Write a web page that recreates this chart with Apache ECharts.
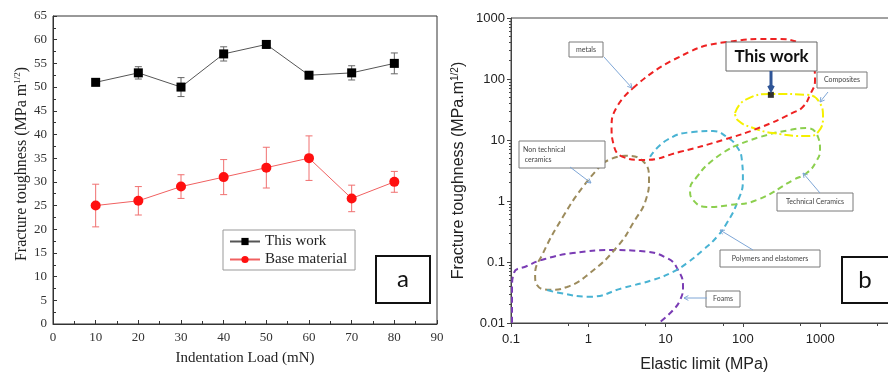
<!DOCTYPE html>
<html>
<head>
<meta charset="utf-8">
<script src="https://cdn.jsdelivr.net/npm/echarts@6/dist/echarts.min.js"></script>
<style>
html,body{margin:0;padding:0;background:#fff;}
#chart{width:888px;height:372px;}
</style>
</head>
<body>
<div id="chart"></div>
<script>
// panel a : toughness vs indentation load
const loads = [10, 20, 30, 40, 50, 60, 70, 80];
const thisWork = [51, 53, 50, 57, 59, 52.5, 53, 55];
const thisWorkErr = [0.7, 1.3, 2, 1.5, 0.8, 0.3, 1.5, 2.2];
const baseMat = [25, 26, 29, 31, 33, 35, 26.5, 30];
const baseMatErr = [4.5, 3, 2.5, 3.7, 4.3, 4.7, 2.8, 2.2];

// panel b : material families, [elastic limit MPa, toughness MPa.m^1/2]
const metals = [[3.8,71],[12.5,205],[62,405],[245,453],[548,389],[807,183],[857,96],[738,55],[599,35],[445,28],[166,16],[55,10],[15.4,6.4],[5.1,4.7],[2.8,5.3],[2.1,8.9],[2.0,16],[2.35,35],[3.8,71]];
const composites = [[79,27.7],[106,45],[245,57],[675,55],[994,40],[1087,24],[937,13.5],[675,11.6],[245,13],[131,16],[86,21],[79,27.7]];
const techCeramics = [[74.5,7.7],[166,11.2],[406,14.6],[675,15.7],[937,11.2],[994,6.9],[883,4.4],[675,2.9],[445,2.2],[152,1.04],[68,0.86],[34,0.8],[22.6,1.04],[20.7,1.5],[25.5,2.5],[41,4.7],[74.5,7.7]];
const polymers = [[6.3,5.3],[10.4,10],[22.6,13.5],[41,14],[62,11.2],[84,7.7],[97,4.7],[100,2.2],[84,0.93],[62,0.435],[46,0.257],[30.5,0.157],[18.9,0.096],[12.5,0.069],[6.9,0.051],[2.8,0.0375],[1.05,0.027],[0.43,0.031],[0.29,0.035]];
const nonTechCeramics = [[1.55,4.2],[3.0,5.5],[5.1,4.5],[6.1,2.2],[5.7,1.16],[3.8,0.435],[2.35,0.176],[1.05,0.066],[0.53,0.039],[0.32,0.035],[0.217,0.042],[0.205,0.061],[0.26,0.14],[0.47,0.55],[0.85,1.7],[1.55,4.2]];
const foams = [[0.103,0.0101],[0.103,0.035],[0.109,0.066],[0.161,0.086],[0.275,0.112],[0.634,0.14],[2.1,0.157],[4.7,0.151],[10.4,0.116],[14.5,0.074],[16.8,0.039],[15.4,0.0238],[12.5,0.0163],[8.5,0.0104]];
const thisWorkPoint = [[230, 55]];

const serif = '"Liberation Serif", "DejaVu Serif", serif';
const sans = '"Liberation Sans", Arial, sans-serif';
const calibri = 'Lato, "Open Sans", sans-serif';

const chart = echarts.init(document.getElementById('chart'));

function errBars(vals, errs, color) {
    return {
        type: 'custom',
        name: 'err',
        xAxisIndex: 0, yAxisIndex: 0,
        data: loads.map((l, i) => [l, vals[i], errs[i]]),
        encode: {x: 0, y: 1},
        z: 1,
        renderItem(params, api) {
            const x = api.value(0), y = api.value(1), e = api.value(2);
            const top = api.coord([x, y + e]);
            const bot = api.coord([x, y - e]);
            const w = 3.5;
            const st = {stroke: color, lineWidth: 1};
            return {type: 'group', children: [
                {type: 'line', shape: {x1: top[0], y1: top[1], x2: bot[0], y2: bot[1]}, style: st},
                {type: 'line', shape: {x1: top[0] - w, y1: top[1], x2: top[0] + w, y2: top[1]}, style: st},
                {type: 'line', shape: {x1: bot[0] - w, y1: bot[1], x2: bot[0] + w, y2: bot[1]}, style: st}
            ]};
        }
    };
}

function family(data, color, dash) {
    return {
        type: 'line',
        xAxisIndex: 1, yAxisIndex: 1,
        data: data,
        smooth: 0.5,
        symbol: 'none',
        silent: true,
        lineStyle: {color: color, width: 2, type: dash || [6, 4]}
    };
}

function box(x, y, w, h, text, font, opts) {
    opts = opts || {};
    return [
        {type: 'rect', z: 100, shape: {x: x, y: y, width: w, height: h},
            style: {fill: '#fff', stroke: opts.stroke || '#7a7a7a', lineWidth: opts.lw || 1}},
        {type: 'text', z: 101, x: opts.tx != null ? opts.tx : x + w / 2, y: y + h / 2,
            style: {text: text, fill: opts.color || '#444', font: font,
                align: opts.align || 'center', verticalAlign: 'middle', lineHeight: opts.lh}}
    ];
}

function arrow(x1, y1, x2, y2, color, lw, head) {
    const a = Math.atan2(y2 - y1, x2 - x1);
    const s = head || 5;
    const p1 = [x2 - s * Math.cos(a - 0.5), y2 - s * Math.sin(a - 0.5)];
    const p2 = [x2 - s * Math.cos(a + 0.5), y2 - s * Math.sin(a + 0.5)];
    return [
        {type: 'line', z: 100, shape: {x1: x1, y1: y1, x2: x2, y2: y2}, style: {stroke: color, lineWidth: lw || 1}},
        {type: 'polyline', z: 100, shape: {points: [p1, [x2, y2], p2]}, style: {stroke: color, lineWidth: lw || 1, fill: null}}
    ];
}

const lblFont = '7px ' + calibri;
const arrowColor = '#7ea6d6';

const graphics = [].concat(
    box(376, 256, 54, 47, 'a', '24px ' + calibri, {stroke: '#111', lw: 2, color: '#111'}),
    box(842, 257, 60, 46, 'b', '24px ' + calibri, {stroke: '#111', lw: 2, color: '#111', tx: 865}),
    box(569, 42, 34, 15, 'metals', lblFont),
    arrow(604, 57, 632, 88, arrowColor),
    box(519, 141, 86, 27, 'Non technical\n ceramics', lblFont, {align: 'left', tx: 523, lh: 10}),
    arrow(570, 167, 591, 183, arrowColor),
    box(817, 72, 50, 16, 'Composites', lblFont),
    arrow(828, 92, 820, 102, arrowColor),
    box(777, 193, 76, 18, 'Technical Ceramics', lblFont),
    arrow(820, 193, 803, 173, arrowColor),
    box(720, 250, 100, 17, 'Polymers and elastomers', lblFont),
    arrow(753, 250, 720, 230, arrowColor),
    box(706, 291, 34, 16, 'Foams', lblFont),
    arrow(707, 298, 684, 298, arrowColor),
    box(726, 42, 91, 29, 'This work', 'bold 17px ' + calibri, {color: '#111', stroke: '#666'}),
    arrow(771, 71, 771, 90, '#2f5597', 3, 5)
);

chart.setOption({
    animation: false,
    grid: [
        {left: 53, width: 384, top: 16, height: 308, show: true, borderColor: '#333', borderWidth: 1,
            outerBoundsMode: 'none', containLabel: false},
        {left: 511, width: 386.5, top: 18, height: 305, show: true, borderColor: '#444', borderWidth: 1,
            outerBoundsMode: 'none', containLabel: false}
    ],
    legend: {
        data: ['This work', 'Base material'],
        orient: 'vertical',
        left: 223, top: 230,
        padding: [4, 8, 3, 6],
        itemGap: 3,
        itemWidth: 30, itemHeight: 9,
        borderColor: '#999', borderWidth: 1,
        backgroundColor: '#fff',
        textStyle: {fontFamily: serif, fontSize: 15, color: '#222'}
    },
    xAxis: [
        {
            gridIndex: 0, type: 'value', min: 0, max: 90, interval: 10,
            name: 'Indentation Load (mN)', nameLocation: 'middle', nameGap: 27,
            nameTextStyle: {fontFamily: serif, fontSize: 15, color: '#222'},
            axisLine: {lineStyle: {color: '#333'}},
            axisTick: {inside: true, length: 4, lineStyle: {color: '#333'}},
            minorTick: {show: true, splitNumber: 2, length: 3, lineStyle: {color: '#333'}},
            axisLabel: {fontFamily: serif, fontSize: 13, color: '#333', margin: 7},
            splitLine: {show: false}
        },
        {
            gridIndex: 1, type: 'log', logBase: 10, min: 0.1, max: 10000,
            name: 'Elastic limit (MPa)', nameLocation: 'middle', nameGap: 34,
            nameTextStyle: {fontFamily: sans, fontSize: 16, color: '#222'},
            axisLine: {lineStyle: {color: '#444'}},
            axisTick: {length: 4, lineStyle: {color: '#444'}},
            minorTick: {show: true, splitNumber: 2, length: 3, lineStyle: {color: '#444'}},
            axisLabel: {fontFamily: sans, fontSize: 13, color: '#222', margin: 10,
                formatter: v => v >= 10000 ? '' : String(v)},
            splitLine: {show: false}
        }
    ],
    yAxis: [
        {
            gridIndex: 0, type: 'value', min: 0, max: 65, interval: 5,
            name: '{a|Fracture toughness (MPa m}{s|1/2}{a|)}', nameLocation: 'middle', nameGap: 22,
            nameTextStyle: {padding: [0, 0, 0, 12], rich: {
                a: {fontFamily: serif, fontSize: 16, color: '#222'},
                s: {fontFamily: serif, fontSize: 9, color: '#222', verticalAlign: 'bottom', padding: [0, 0, 8, 0]}
            }},
            axisLine: {lineStyle: {color: '#333'}},
            axisTick: {inside: true, length: 4, lineStyle: {color: '#333'}},
            minorTick: {show: true, splitNumber: 2, length: 3, lineStyle: {color: '#333'}},
            axisLabel: {fontFamily: serif, fontSize: 13, color: '#333', margin: 6},
            splitLine: {show: false}
        },
        {
            gridIndex: 1, type: 'log', logBase: 10, min: 0.01, max: 1000,
            name: '{a|Fracture toughness (MPa.m}{s|1/2}{a|)}', nameLocation: 'middle', nameGap: 43,
            nameTextStyle: {rich: {
                a: {fontFamily: sans, fontSize: 16, color: '#222'},
                s: {fontFamily: sans, fontSize: 10, color: '#222', verticalAlign: 'bottom', padding: [0, 0, 8, 0]}
            }},
            axisLine: {lineStyle: {color: '#444'}},
            axisTick: {length: 4, lineStyle: {color: '#444'}},
            minorTick: {show: true, splitNumber: 9, length: 2, lineStyle: {color: '#444'}},
            axisLabel: {fontFamily: sans, fontSize: 13, color: '#222', margin: 6,
                formatter: v => String(v)},
            splitLine: {show: false}
        }
    ],
    series: [
        errBars(thisWork, thisWorkErr, '#666'),
        errBars(baseMat, baseMatErr, '#f07070'),
        {
            name: 'This work', type: 'line', xAxisIndex: 0, yAxisIndex: 0,
            data: loads.map((l, i) => [l, thisWork[i]]),
            symbol: 'rect', symbolSize: 9, z: 3,
            itemStyle: {color: '#000'},
            lineStyle: {color: '#555', width: 1}
        },
        {
            name: 'Base material', type: 'line', xAxisIndex: 0, yAxisIndex: 0,
            data: loads.map((l, i) => [l, baseMat[i]]),
            symbol: 'circle', symbolSize: 10, z: 3,
            itemStyle: {color: '#ff1010'},
            lineStyle: {color: '#f06060', width: 1}
        },
        family(foams, '#7a3cb4'),
        family(nonTechCeramics, '#9c8b5c'),
        family(polymers, '#49b3d3'),
        family(techCeramics, '#8ccf4e'),
        family(composites, '#f5f000', [9, 3, 2, 3]),
        family(metals, '#ee2222'),
        {
            type: 'scatter', xAxisIndex: 1, yAxisIndex: 1,
            data: thisWorkPoint, symbol: 'rect', symbolSize: 6, z: 5,
            itemStyle: {color: '#000'}
        }
    ],
    graphic: graphics
});
</script>
</body>
</html>
